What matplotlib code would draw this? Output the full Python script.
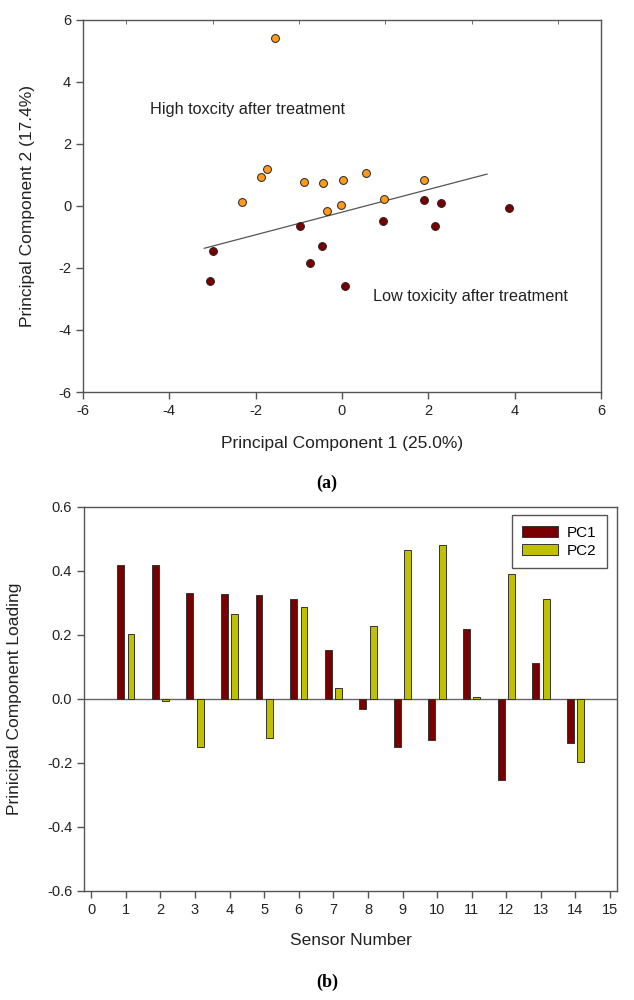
import numpy as np
import matplotlib
matplotlib.use("Agg")
import matplotlib.pyplot as plt

plt.rcParams['font.family'] = ['Liberation Sans', 'DejaVu Sans']
plt.rcParams['axes.unicode_minus'] = False

# (a) PCA scores
high_x = [-1.55, -1.74, -1.87, -2.32, -0.89, -0.43, 0.02, 0.56, 1.91, 0.98, -0.02, -0.34]
high_y = [5.39, 1.19, 0.94, 0.11, 0.78, 0.72, 0.83, 1.07, 0.83, 0.22, 0.04, -0.16]
low_x = [-3.00, -3.05, -0.97, -0.47, -0.74, 0.06, 0.96, 1.90, 2.29, 2.16, 3.88]
low_y = [-1.45, -2.42, -0.66, -1.31, -1.83, -2.60, -0.49, 0.17, 0.09, -0.65, -0.07]
line_x = [-3.19, 3.36]
line_y = [-1.37, 1.02]

# (b) loadings
sensors = np.arange(1, 15)
pc1 = [0.418, 0.418, 0.330, 0.328, 0.325, 0.312, 0.153, -0.031, -0.150, -0.129, 0.220, -0.253, 0.113, -0.136]
pc2 = [0.203, -0.005, -0.150, 0.265, -0.122, 0.289, 0.035, 0.228, 0.467, 0.480, 0.005, 0.392, 0.311, -0.198]

spine_col = '#555555'
orange = '#ff9a1a'
darkred = '#7a0000'
olive = '#bfc000'

fig = plt.figure(figsize=(6.34, 10), dpi=100)

def style(ax):
    for s in ax.spines.values():
        s.set_color(spine_col)
        s.set_linewidth(1.0)
    ax.tick_params(direction='out', length=5, width=1, color=spine_col,
                   labelsize=10.5, labelcolor='#222222')
    ax.tick_params(top=False, right=False)

# ---------- (a) ----------
ax1 = fig.add_axes([83/634, 1 - 392/1000, 518/634, (392 - 19.5)/1000])
style(ax1)
ax1.scatter(high_x, high_y, s=32, c=orange, edgecolors='#222222', linewidths=0.7, zorder=3)
ax1.scatter(low_x, low_y, s=32, c=darkred, edgecolors='#222222', linewidths=0.7, zorder=3)
ax1.plot(line_x, line_y, color='#555555', lw=0.9, zorder=2)
ax1.set_xlim(-6, 6)
ax1.set_ylim(-6, 6)
ax1.set_xticks(np.arange(-6, 7, 2))
ax1.set_yticks(np.arange(-6, 7, 2))
ax1.set_xticks(np.arange(-5, 6, 2), minor=True)
ax1.tick_params(which='minor', top=True, bottom=False, direction='in', length=3,
                color=spine_col)
ax1.text(-4.45, 3.09, 'High toxcity after treatment', fontsize=11.7, va='center', ha='left',
         color='#222222')
ax1.text(0.71, -2.93, 'Low toxicity after treatment', fontsize=11.7, va='center', ha='left',
         color='#222222')
ax1.set_ylabel('Principal Component 2 (17.4%)', fontsize=12.5, color='#222222')
ax1.yaxis.set_label_coords((35 - 83) / 518, 0.5)
fig.text(342/634, 1 - 443/1000, 'Principal Component 1 (25.0%)', fontsize=12.5,
         ha='center', va='center', color='#222222')
fig.text(327/634, 1 - 483/1000, '(a)', fontsize=13, fontweight='bold',
         family='Liberation Serif', ha='center', va='center')

# ---------- (b) ----------
ax2 = fig.add_axes([84/634, 1 - 891/1000, 533/634, (891 - 507)/1000])
style(ax2)
w = 0.2
ax2.bar(sensors - 0.15, pc1, width=w, color=darkred, edgecolor='#333333', linewidth=0.7,
        label='PC1', zorder=3)
ax2.bar(sensors + 0.15, pc2, width=w, color=olive, edgecolor='#333333', linewidth=0.7,
        label='PC2', zorder=3)
ax2.axhline(0, color='#666666', lw=1.0, zorder=2)
ax2.set_xlim(-0.21, 15.2)
ax2.set_ylim(-0.6, 0.6)
ax2.set_xticks(np.arange(0, 16))
ax2.set_yticks(np.arange(-0.6, 0.61, 0.2))
ax2.set_yticklabels([f'{v:.1f}' for v in np.arange(-0.6, 0.61, 0.2)])
ax2.set_ylabel('Prinicipal Component Loading', fontsize=12.5, color='#222222')
ax2.yaxis.set_label_coords((22 - 84) / 533, 0.5)
ax2.set_xlabel('Sensor Number', fontsize=12.5, color='#222222', labelpad=12)
leg = ax2.legend(loc='upper right', bbox_to_anchor=((607 - 84) / 533, (891 - 515) / 384),
                 borderaxespad=0, fontsize=11, fancybox=False, framealpha=1,
                 edgecolor=spine_col, handlelength=2.3, handleheight=0.7,
                 borderpad=0.7, labelspacing=0.25, handletextpad=0.6)
leg.get_frame().set_linewidth(1.0)
leg.set_zorder(5)
fig.text(327/634, 1 - 982/1000, '(b)', fontsize=13, fontweight='bold',
         family='Liberation Serif', ha='center', va='center')

fig.savefig('out.png', dpi=100)
